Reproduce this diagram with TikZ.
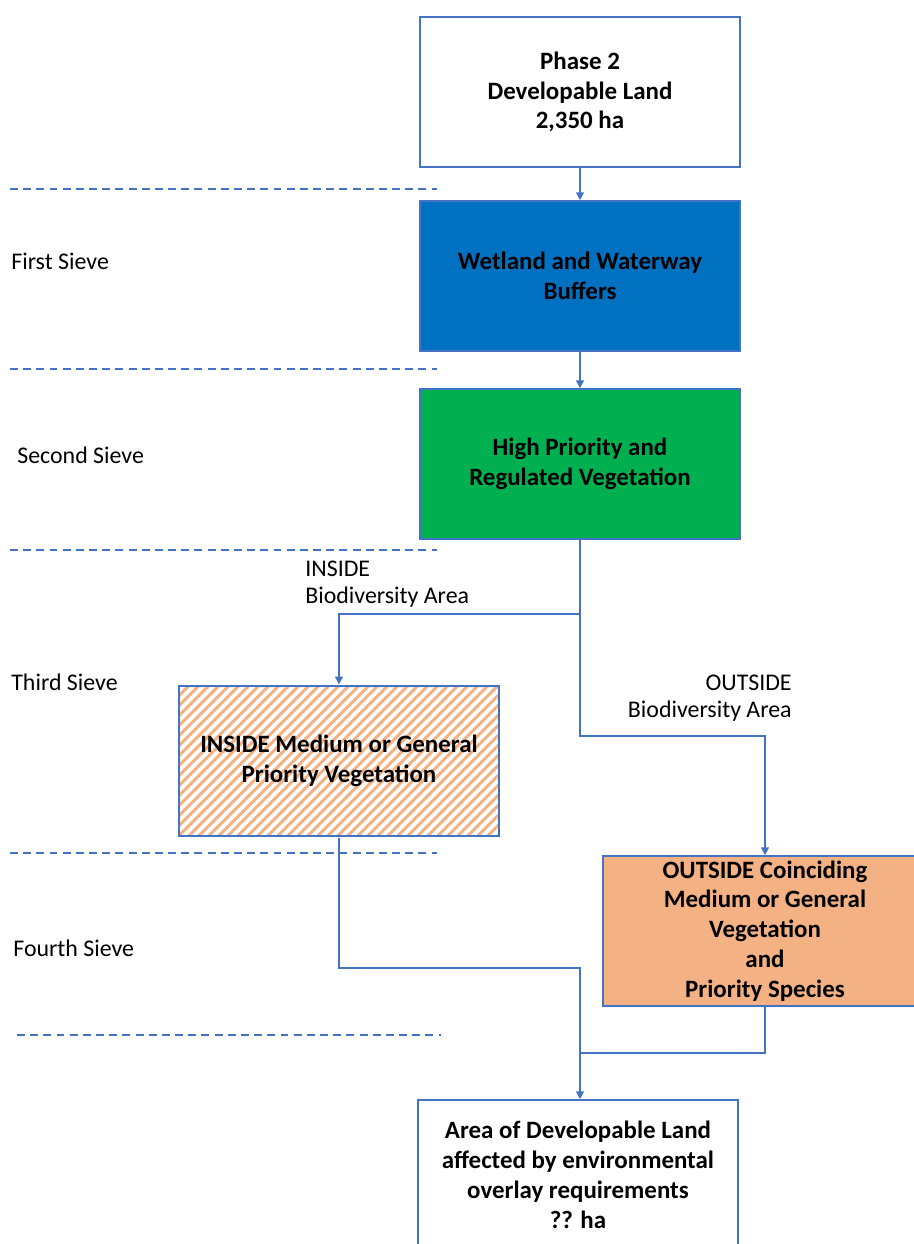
\documentclass[tikz,border=0pt]{standalone}
\usepackage{fontspec}
\setmainfont{Carlito}
\usetikzlibrary{arrows.meta,patterns.meta}
\definecolor{lineblue}{HTML}{4472C4}
\definecolor{wetblue}{HTML}{0070C0}
\definecolor{veggreen}{HTML}{00B050}
\definecolor{peach}{HTML}{F4B183}
\begin{document}
\begin{tikzpicture}[x=0.02cm,y=-0.02cm,
    box/.style={draw=lineblue,line width=0.9pt,minimum width=6.4cm,minimum height=3cm,
      inner sep=0pt,align=center,font=\fontsize{14.2}{17}\selectfont\bfseries},
    sieve/.style={anchor=west,inner sep=0pt,font=\fontsize{13.6}{15.5}\selectfont},
    branch/.style={inner sep=0pt,font=\fontsize{13.6}{15.5}\selectfont},
    link/.style={draw=lineblue,line width=0.9pt},
    arrow/.style={link,-{Triangle[length=4.5pt,width=4.5pt]}},
    sep/.style={draw=lineblue,line width=1.1pt,dash pattern=on 4.5pt off 3pt}]
  \useasboundingbox (0,0) rectangle (913,1244);

  % sieve separators
  \foreach \y/\a/\b in {189/10/437,369/10/437,550/10/437,853/10/437,1035/17/441}
    \draw[sep] (\a,\y) -- (\b,\y);

  \node[sieve] (first) at (11,261) {First Sieve};
  \node[sieve] (second) at (17,455) {Second Sieve};
  \node[sieve] (third) at (11,682) {Third Sieve};
  \node[sieve] (fourth) at (13,948) {Fourth Sieve};

  % boxes
  \node[box,fill=white] (phase) at (580,92) {Phase 2\\Developable Land\\2,350 ha};
  \node[box,fill=wetblue] (wetland) at (580,276) {Wetland and Waterway\\Buffers};
  \node[box,fill=veggreen] (highpri) at (580,464) {High Priority and\\Regulated Vegetation};
  \node[box,fill=white,pattern={Lines[angle=45,distance=4pt,line width=1.8pt]},
    pattern color=peach] (inside) at (339,761) {INSIDE Medium or General\\Priority Vegetation};
  \node[box,fill=peach,minimum width=6.48cm] (outside) at (765,931)
    {OUTSIDE Coinciding\\Medium or General\\Vegetation\\and\\Priority Species};
  \node[box,fill=white] (area) at (578,1175)
    {Area of Developable Land\\affected by environmental\\overlay requirements\\?? ha};

  \node[branch,anchor=west,align=left] (insidelbl) at (305,584) {INSIDE\\Biodiversity Area};
  \node[branch,anchor=east,align=right] (outsidelbl) at (792,698) {OUTSIDE\\Biodiversity Area};

  % connectors
  \coordinate (split) at (580,614);
  \coordinate (bend) at (580,736);
  \coordinate (join) at (580,968);
  \coordinate (merge) at (580,1053);
  \draw[arrow] (phase) -- (wetland);
  \draw[arrow] (wetland) -- (highpri);
  \draw[arrow] (highpri.south) -- (split) -| (inside.north);
  \draw[arrow] (split) -- (bend) -| (outside.north);
  \draw[link] (inside.south) |- (join) -- (merge);
  \draw[link] (outside.south) |- (merge);
  \draw[arrow] (merge) -- (merge |- area.north);
\end{tikzpicture}
\end{document}
